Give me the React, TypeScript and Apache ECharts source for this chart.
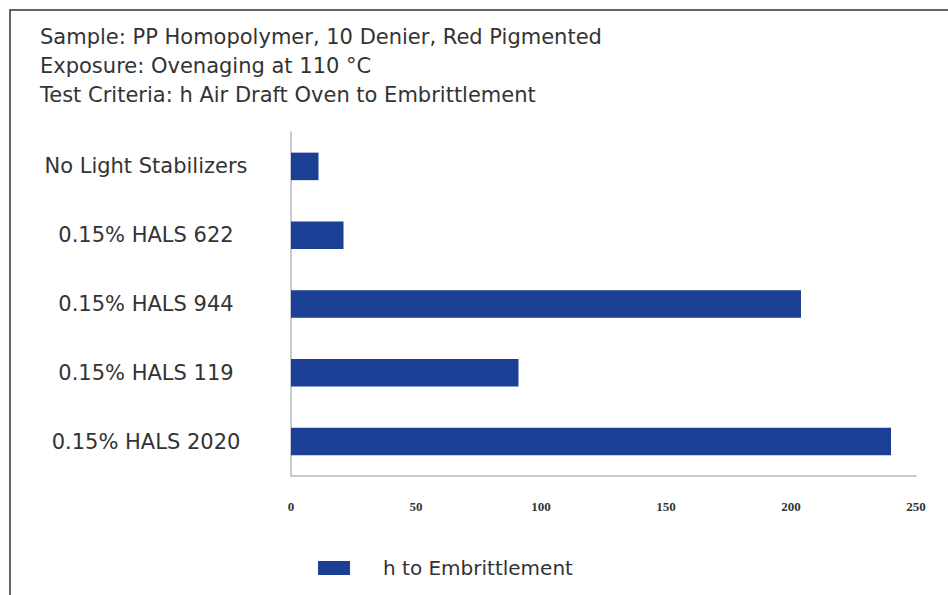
import React, { useEffect, useRef } from "react";
import * as echarts from "echarts";

const headerLines = [
  "Sample: PP Homopolymer, 10 Denier, Red Pigmented",
  "Exposure: Ovenaging at 110 °C",
  "Test Criteria: h Air Draft Oven to Embrittlement",
];
const categories = [
  "No Light Stabilizers",
  "0.15% HALS 622",
  "0.15% HALS 944",
  "0.15% HALS 119",
  "0.15% HALS 2020",
];
const seriesName = "h to Embrittlement";
const hoursToEmbrittlement = [11, 21, 204, 91, 240];
const xMin = 0;
const xMax = 250;
const xInterval = 50;

export default function App() {
  const ref = useRef<HTMLDivElement>(null);
  useEffect(() => {
    if (!ref.current) return;
    const chart = echarts.init(ref.current, undefined, { renderer: "svg" });
    const sans = "DejaVu Sans";
    chart.setOption({
      animation: false,
      backgroundColor: "#ffffff",
      title: {
        text: headerLines.join("\n"),
        left: 30,
        top: 22,
        padding: [0, 10],
        textStyle: {
          fontFamily: sans,
          fontSize: 21,
          fontWeight: "normal",
          color: "#333333",
          lineHeight: 29,
        },
      },
      graphic: [
        {
          type: "rect",
          shape: { x: 10, y: 10, width: 1200, height: 1200 },
          style: { fill: "none", stroke: "#333333", lineWidth: 1.5 },
          silent: true,
          z: 100,
        },
      ],
      legend: {
        data: [seriesName],
        left: 318,
        top: 558,
        padding: 0,
        itemWidth: 32,
        itemHeight: 14,
        icon: "rect",
        textStyle: {
          fontFamily: sans,
          fontSize: 20,
          color: "#333333",
          padding: [0, 0, 0, 28],
        },
      },
      grid: {
        left: 291,
        right: 32,
        top: 132,
        bottom: 595 - 476,
        containLabel: false,
      },
      xAxis: {
        type: "value",
        min: xMin,
        max: xMax,
        interval: xInterval,
        axisLine: { show: true, lineStyle: { color: "#b4b8c4", width: 1.5 } },
        axisTick: { show: false },
        splitLine: { show: false },
        axisLabel: {
          margin: 24,
          fontFamily: "Liberation Serif",
          fontWeight: "bold",
          fontSize: 13,
          color: "#333333",
        },
      },
      yAxis: {
        type: "category",
        inverse: true,
        data: categories,
        axisLine: { show: true, lineStyle: { color: "#b4b8c4", width: 1.5 } },
        axisTick: { show: false },
        axisLabel: {
          align: "center",
          margin: 145,
          fontFamily: sans,
          fontSize: 21,
          color: "#333333",
        },
      },
      series: [
        {
          name: seriesName,
          type: "bar",
          data: hoursToEmbrittlement,
          barWidth: "40%",
          itemStyle: { color: "#1b3f95" },
        },
      ],
    });
    return () => chart.dispose();
  }, []);
  return (
    <div
      ref={ref}
      style={{ position: "fixed", left: 0, top: 0, width: 948, height: 595 }}
    />
  );
}
